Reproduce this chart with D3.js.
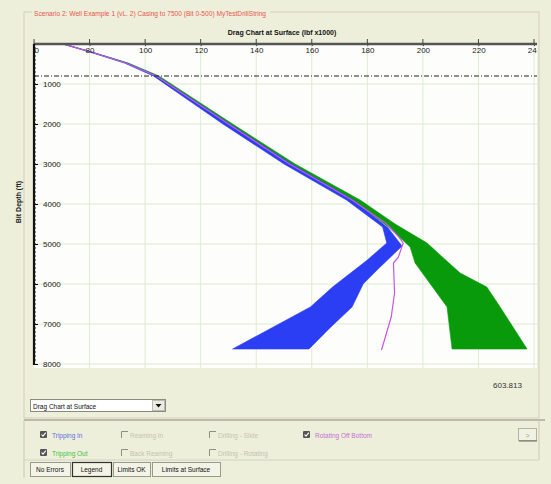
<!DOCTYPE html>
<html>
<head>
<meta charset="utf-8">
<script src="https://cdn.jsdelivr.net/npm/d3@7"></script>
<style>
  body { margin: 0; background: #eeefdb; }
  text { font-family: "Liberation Sans", Arial, sans-serif; }
</style>
</head>
<body>
<script>
// ---- data ----
const loadTicks = [60, 80, 100, 120, 140, 160, 180, 200, 220, 240];
const depthTicks = [1000, 2000, 3000, 4000, 5000, 6000, 7000, 8000];
const shoeDepth = 800;

// Tripping In band (blue): low edge and high edge
const tripInLowDepth = [0, 200, 475, 800, 2000, 3000, 3900, 4575, 4975, 5400, 6075, 6575, 7625];
const tripInLowLoad  = [70.3, 80, 92.5, 103, 128, 150, 172.5, 185.5, 187, 180, 167.5, 159.5, 131.5];
const tripInHighDepth = [0, 200, 475, 800, 2000, 3000, 3900, 4600, 5050, 5650, 6000, 6575, 7100, 7625];
const tripInHighLoad  = [70.5, 80.6, 93.4, 104.3, 130.5, 152.7, 175, 187.5, 192.5, 183.5, 178.5, 174.5, 166.5, 159];

// Tripping Out band (green)
const tripOutLowDepth = [0, 200, 475, 800, 2000, 3000, 3900, 4600, 5075, 5475, 6575, 7625];
const tripOutLowLoad  = [70.5, 80.6, 93.4, 104.3, 130.5, 152.7, 175, 188, 195.4, 197.2, 208.7, 210.5];
const tripOutHighDepth = [0, 200, 475, 800, 2000, 3000, 3900, 4500, 4975, 5325, 5725, 6075, 6575, 7625];
const tripOutHighLoad  = [70.7, 80.9, 93.9, 105, 131.5, 154, 177.4, 190, 201.5, 207, 213.4, 223, 227.8, 237.5];

// Rotating Off Bottom (line)
const rotOffDepth = [0, 200, 475, 800, 2000, 3000, 3900, 4500, 4800, 4975, 5325, 5475, 6225, 6825, 7650];
const rotOffLoad  = [70.5, 80.5, 93, 104, 130, 152, 174.5, 187, 191, 192.9, 191.2, 189.4, 189.8, 188.6, 185.1];

const W = 551, H = 484;
const svg = d3.select("body").append("svg").attr("width", W).attr("height", H);

// frame
svg.append("rect").attr("x", 24).attr("y", 12).attr("width", 515).attr("height", 406)
  .attr("fill", "none").attr("stroke", "#cfcfbd");
svg.append("rect").attr("x", 32).attr("y", 8).attr("width", 238).attr("height", 9).attr("fill", "#eeefdb");
svg.append("text").attr("x", 34).attr("y", 15.5).attr("font-size", 7).attr("fill", "#e8554c")
  .attr("textLength", 232).attr("lengthAdjust", "spacingAndGlyphs")
  .text("Scenario 2: Well Example 1 (vL. 2)  Casing to 7500 (Bit 0-500)  MyTestDrillString");

svg.append("text").attr("x", 282).attr("y", 35).attr("text-anchor", "middle")
  .attr("font-size", 7).attr("font-weight", "bold").attr("fill", "#111")
  .text("Drag Chart at Surface (lbf x1000)");

// scales
const x = d3.scaleLinear().domain([60, 240]).range([34, 534]);
const y = d3.scaleLinear().domain([0, 8000]).range([44, 364]);
const plotL = 34, plotR = 537, plotT = 44, plotB = 368;

svg.append("defs").append("clipPath").attr("id", "plot")
  .append("rect").attr("x", plotL).attr("y", plotT).attr("width", plotR - plotL).attr("height", plotB - plotT);

svg.append("rect").attr("x", plotL).attr("y", plotT).attr("width", plotR - plotL).attr("height", plotB - plotT)
  .attr("fill", "#fdfefb");

const grid = svg.append("g").attr("stroke", "#dfead0").attr("stroke-width", 1);
grid.selectAll(".v").data(loadTicks.slice(1)).join("line")
  .attr("x1", d => x(d)).attr("x2", d => x(d)).attr("y1", plotT).attr("y2", plotB);
grid.selectAll(".h").data(depthTicks).join("line")
  .attr("x1", plotL).attr("x2", plotR).attr("y1", d => y(d)).attr("y2", d => y(d));

const plot = svg.append("g").attr("clip-path", "url(#plot)");

function band(lowD, lowL, highD, highL) {
  const lo = lowD.map((d, i) => [lowL[i], d]);
  const hi = highD.map((d, i) => [highL[i], d]).reverse();
  return d3.line().x(p => x(p[0])).y(p => y(p[1]))(lo.concat(hi)) + "Z";
}

plot.append("path").attr("d", band(tripOutLowDepth, tripOutLowLoad, tripOutHighDepth, tripOutHighLoad))
  .attr("fill", "#089a0a").attr("stroke", "#089a0a").attr("stroke-width", 0.6);
plot.append("path").attr("d", band(tripInLowDepth, tripInLowLoad, tripInHighDepth, tripInHighLoad))
  .attr("fill", "#2b3ef3").attr("stroke", "#2b3ef3").attr("stroke-width", 0.6);

plot.append("path")
  .attr("d", d3.line().x((d, i) => x(rotOffLoad[i])).y(d => y(d))(rotOffDepth))
  .attr("fill", "none").attr("stroke", "#c956e3").attr("stroke-width", 1.2);

plot.append("line").attr("x1", plotL).attr("x2", plotR).attr("y1", y(shoeDepth)).attr("y2", y(shoeDepth))
  .attr("stroke", "#222").attr("stroke-width", 1).attr("stroke-dasharray", "5,2,1,2");

// axes
const labels = svg.append("g").attr("clip-path", "url(#plot)");
const xAxis = labels.append("g").attr("transform", `translate(0,${plotT})`)
  .call(d3.axisBottom(x).tickValues(loadTicks).tickSizeInner(2).tickSizeOuter(0).tickPadding(1));
xAxis.select(".domain").remove();
xAxis.selectAll(".tick line").attr("y1", -4).attr("stroke", "#333");
xAxis.selectAll("text").attr("font-family", "'Liberation Serif', serif").attr("font-size", 8).attr("fill", "#222");

svg.append("line").attr("x1", plotL).attr("x2", plotR).attr("y1", plotT).attr("y2", plotT)
  .attr("stroke", "#555").attr("stroke-width", 2.5);
svg.selectAll(".xt").data(loadTicks).join("line")
  .attr("x1", d => x(d)).attr("x2", d => x(d)).attr("y1", plotT - 5).attr("y2", plotT)
  .attr("stroke", "#444");

const yAxis = svg.append("g").attr("transform", `translate(${plotL},0)`)
  .call(d3.axisRight(y).tickValues(depthTicks).tickFormat(d3.format("d"))
    .tickSizeInner(4).tickSizeOuter(0).tickPadding(5));
yAxis.select(".domain").remove();
yAxis.selectAll("text").attr("font-family", "'Liberation Serif', serif").attr("font-size", 8).attr("fill", "#222");
const minor = yAxis.append("g");
minor.selectAll("line").data(d3.range(100, 8000, 100)).join("line")
  .attr("x1", 0).attr("x2", 2).attr("y1", d => y(d)).attr("y2", d => y(d)).attr("stroke", "#222");
svg.append("line").attr("x1", plotL).attr("x2", plotL).attr("y1", plotT).attr("y2", y(8000) + 1)
  .attr("stroke", "#111").attr("stroke-width", 2.2);

svg.append("text").attr("transform", "translate(21,202) rotate(-90)").attr("text-anchor", "middle")
  .attr("font-size", 7).attr("font-weight", "bold").attr("fill", "#222").text("Bit Depth (ft)");

svg.append("text").attr("x", 493).attr("y", 388).attr("font-family", "'DejaVu Sans Mono', monospace")
  .attr("font-size", 8).attr("fill", "#333").text("603.813");

// dropdown
svg.append("rect").attr("x", 30.5).attr("y", 399.5).attr("width", 135).attr("height", 12)
  .attr("fill", "#fff").attr("stroke", "#8a8a80");
svg.append("text").attr("x", 33).attr("y", 408.5).attr("font-size", 6.5).attr("fill", "#111").text("Drag Chart at Surface");
svg.append("rect").attr("x", 152.5).attr("y", 400.5).attr("width", 12).attr("height", 10)
  .attr("fill", "#ecebe0").attr("stroke", "#bbb");
svg.append("path").attr("d", "M155.5,404 L161.5,404 L158.5,407.5 Z").attr("fill", "#111");

// legend panel
svg.append("line").attr("x1", 24).attr("x2", 545).attr("y1", 420).attr("y2", 420).attr("stroke", "#a9a99a").attr("stroke-width", 1.5);
svg.append("line").attr("x1", 24).attr("x2", 24).attr("y1", 420).attr("y2", 478).attr("stroke", "#c9c9b8");
svg.append("line").attr("x1", 539).attr("x2", 539).attr("y1", 420).attr("y2", 460).attr("stroke", "#c9c9b8");
svg.append("line").attr("x1", 24).attr("x2", 539).attr("y1", 460).attr("y2", 460).attr("stroke", "#d2d2c2");

const legendItems = [
  { label: "Tripping In", cx: 40, cy: 431, on: true, color: "#5b6ee6" },
  { label: "Tripping Out", cx: 40, cy: 449, on: true, color: "#43bf43" },
  { label: "Reaming In", cx: 121, cy: 431, on: false, color: "#c3c3b2" },
  { label: "Back Reaming", cx: 121, cy: 449, on: false, color: "#c3c3b2" },
  { label: "Drilling - Slide", cx: 209, cy: 431, on: false, color: "#c3c3b2" },
  { label: "Drilling - Rotating", cx: 209, cy: 449, on: false, color: "#c3c3b2" },
  { label: "Rotating Off Bottom", cx: 303, cy: 431, on: true, color: "#c46fd6" }
];
const li = svg.selectAll(".li").data(legendItems).join("g").attr("transform", d => `translate(${d.cx},${d.cy})`);
li.filter(d => d.on).append("rect").attr("width", 7).attr("height", 7).attr("fill", "#555").attr("rx", 1);
li.filter(d => d.on).append("path").attr("d", "M1.5,3.5 L3,5.2 L5.8,1.6").attr("fill", "none").attr("stroke", "#fff").attr("stroke-width", 1.1);
li.filter(d => !d.on).append("path").attr("d", "M0.5,7 L0.5,0.5 L7,0.5").attr("fill", "none").attr("stroke", "#8e8e84").attr("stroke-width", 1);
li.append("text").attr("x", d => d.on ? 12 : 9).attr("y", 6.5).attr("font-size", 6.5).attr("fill", d => d.color).text(d => d.label);

svg.append("rect").attr("x", 518.5).attr("y", 428.5).attr("width", 18).attr("height", 12)
  .attr("fill", "#f1f1e4").attr("stroke", "#b4b4a4");
svg.append("line").attr("x1", 519).attr("x2", 537).attr("y1", 441).attr("y2", 441).attr("stroke", "#666");
svg.append("text").attr("x", 527.5).attr("y", 437.5).attr("text-anchor", "middle").attr("font-size", 7).attr("fill", "#7bbb6a").text(">");

const tabs = [
  { label: "No Errors", x0: 30, x1: 70 },
  { label: "Legend", x0: 72, x1: 111, pressed: true },
  { label: "Limits OK", x0: 113, x1: 150 },
  { label: "Limits at Surface", x0: 152, x1: 220 }
];
const tb = svg.selectAll(".tab").data(tabs).join("g");
tb.append("rect").attr("x", d => d.x0 + 0.5).attr("y", 462.5).attr("width", d => d.x1 - d.x0).attr("height", 14)
  .attr("fill", "#f3f3e6").attr("stroke", d => d.pressed ? "#333" : "#9a9a8c").attr("stroke-width", d => d.pressed ? 1.2 : 1);
tb.append("text").attr("x", d => (d.x0 + d.x1) / 2).attr("y", 472).attr("text-anchor", "middle")
  .attr("font-size", 6.5).attr("fill", "#111").text(d => d.label);
</script>
</body>
</html>
